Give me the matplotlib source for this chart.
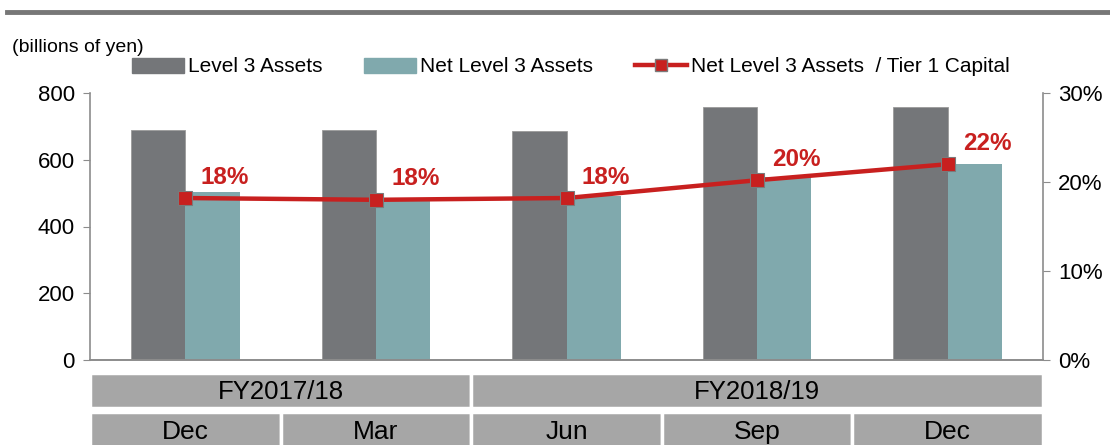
import matplotlib
matplotlib.use('Agg')
import matplotlib.pyplot as plt
from matplotlib.patches import Rectangle
from matplotlib.lines import Line2D
import numpy as np

plt.rcParams['font.family'] = ['Liberation Sans', 'DejaVu Sans']

months = ['Dec', 'Mar', 'Jun', 'Sep', 'Dec']
fiscal_years = ['FY2017/18', 'FY2018/19']
fy_span = [2, 3]
level3 = [690, 690, 685, 758, 758]
net_level3 = [503, 475, 490, 549, 587]
ratio = [18.2, 18.0, 18.2, 20.2, 22.0]
ratio_labels = ['18%', '18%', '18%', '20%', '22%']

gray = '#747679'
teal = '#80a9ad'
red = '#c8201f'
axis_col = '#8c8c8c'

fig = plt.figure(figsize=(11.1, 4.45), dpi=100)
ax = fig.add_axes([90/1110, 1-360/445, 953/1110, 267/445])
ax2 = ax.twinx()

x = np.arange(len(months))
w = 0.285
ax.bar(x - w/2, level3, w, color=gray, edgecolor='#9a9a9a', linewidth=0.6, zorder=2)
ax.bar(x + w/2, net_level3, w, color=teal, zorder=2)
ax.set_xlim(-0.5, len(months) - 0.5)
ax.set_ylim(0, 800)
ax.set_yticks([0, 200, 400, 600, 800])
ax.set_xticks([])

ax2.plot(x, ratio, color=red, lw=3.2, marker='s', ms=10, mfc=red, mec='#7a7a7a',
         mew=0.8, zorder=5)
ax2.set_ylim(0, 30)
ax2.set_yticks([0, 10, 20, 30])
ax2.set_yticklabels(['0%', '10%', '20%', '30%'])
for xi, yi, lab in zip(x, ratio, ratio_labels):
    ax2.annotate(lab, (xi, yi), xytext=(11, 15), textcoords='offset points',
                 ha='left', va='center', color=red, fontsize=17.5, fontweight='bold')

for a in (ax, ax2):
    a.spines['top'].set_visible(False)
    for s in ('left', 'right', 'bottom'):
        a.spines[s].set_color(axis_col)
        a.spines[s].set_linewidth(1.2)
    a.tick_params(axis='y', length=5, color=axis_col, labelsize=16, pad=6)
ax.spines['right'].set_visible(False)
ax2.spines['left'].set_visible(False)

# category table below the axis
tr = ax.get_xaxis_transform()
cell = '#a6a6a6'
row1 = (-0.049, -0.181)
row2 = (-0.196, -0.34)
start = -0.5
for fy, n in zip(fiscal_years, fy_span):
    ax.add_patch(Rectangle((start, row1[1]), n, row1[0] - row1[1], transform=tr,
                           facecolor=cell, edgecolor='white', lw=2.5, clip_on=False))
    ax.text(start + n/2, -0.118, fy, transform=tr, ha='center',
            va='center', fontsize=18.5)
    start += n
for xi, m in zip(x, months):
    ax.add_patch(Rectangle((xi - 0.5, row2[1]), 1, row2[0] - row2[1], transform=tr,
                           facecolor=cell, edgecolor='white', lw=2.5, clip_on=False))
    ax.text(xi, -0.268, m, transform=tr, ha='center', va='center',
            fontsize=19)

# top rule
fig.add_artist(Line2D([7/1110, 1], [1-12/445, 1-12/445], color='#777777', lw=3.5))

fig.text(12/1110, 1-47/445, '(billions of yen)', fontsize=14, va='center')

handles = [Rectangle((0, 0), 1, 1, color=gray),
           Rectangle((0, 0), 1, 1, color=teal),
           Line2D([], [], color=red, lw=3.2, marker='s', ms=9, mfc=red, mec='#7a7a7a')]
labels = ['Level 3 Assets', 'Net Level 3 Assets', 'Net Level 3 Assets  / Tier 1 Capital']
fig.legend(handles, labels, loc='center', bbox_to_anchor=(571/1110, 1-67/445), ncol=3,
           frameon=False, fontsize=15, handlelength=2.5, handleheight=0.7,
           handletextpad=0.2, columnspacing=2.0)

fig.savefig('out.png', dpi=100)
